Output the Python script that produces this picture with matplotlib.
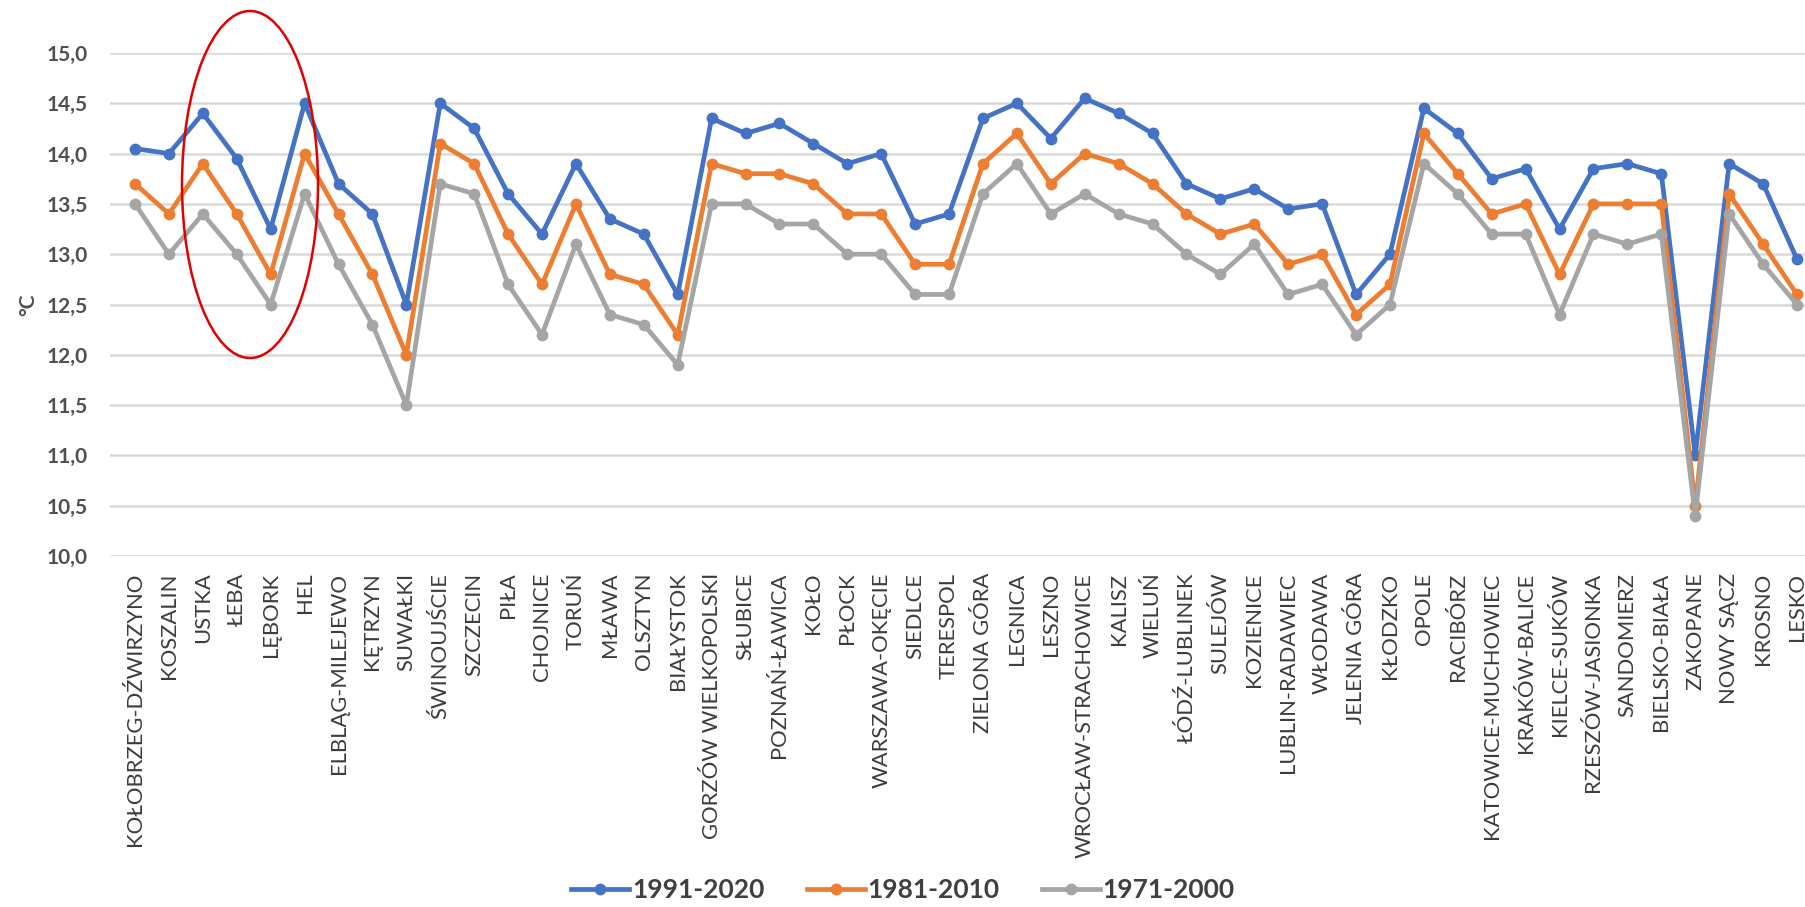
import matplotlib
matplotlib.use("Agg")
import matplotlib.pyplot as plt
from matplotlib.patches import Ellipse

stations = [
    "KOŁOBRZEG-DŹWIRZYNO", "KOSZALIN", "USTKA", "ŁEBA", "LĘBORK", "HEL",
    "ELBLĄG-MILEJEWO", "KĘTRZYN", "SUWAŁKI", "ŚWINOUJŚCIE", "SZCZECIN", "PIŁA",
    "CHOJNICE", "TORUŃ", "MŁAWA", "OLSZTYN", "BIAŁYSTOK", "GORZÓW WIELKOPOLSKI",
    "SŁUBICE", "POZNAŃ-ŁAWICA", "KOŁO", "PŁOCK", "WARSZAWA-OKĘCIE", "SIEDLCE",
    "TERESPOL", "ZIELONA GÓRA", "LEGNICA", "LESZNO", "WROCŁAW-STRACHOWICE",
    "KALISZ", "WIELUŃ", "ŁÓDŹ-LUBLINEK", "SULEJÓW", "KOZIENICE",
    "LUBLIN-RADAWIEC", "WŁODAWA", "JELENIA GÓRA", "KŁODZKO", "OPOLE",
    "RACIBÓRZ", "KATOWICE-MUCHOWIEC", "KRAKÓW-BALICE", "KIELCE-SUKÓW",
    "RZESZÓW-JASIONKA", "SANDOMIERZ", "BIELSKO-BIAŁA", "ZAKOPANE", "NOWY SĄCZ",
    "KROSNO", "LESKO",
]

t_1991_2020 = [
    14.05, 14.0, 14.4, 13.95, 13.25, 14.5, 13.7, 13.4, 12.5, 14.5,
    14.25, 13.6, 13.2, 13.9, 13.35, 13.2, 12.6, 14.35, 14.2, 14.3,
    14.1, 13.9, 14.0, 13.3, 13.4, 14.35, 14.5, 14.15, 14.55, 14.4,
    14.2, 13.7, 13.55, 13.65, 13.45, 13.5, 12.6, 13.0, 14.45, 14.2,
    13.75, 13.85, 13.25, 13.85, 13.9, 13.8, 11.0, 13.9, 13.7, 12.95,
]
t_1981_2010 = [
    13.7, 13.4, 13.9, 13.4, 12.8, 14.0, 13.4, 12.8, 12.0, 14.1,
    13.9, 13.2, 12.7, 13.5, 12.8, 12.7, 12.2, 13.9, 13.8, 13.8,
    13.7, 13.4, 13.4, 12.9, 12.9, 13.9, 14.2, 13.7, 14.0, 13.9,
    13.7, 13.4, 13.2, 13.3, 12.9, 13.0, 12.4, 12.7, 14.2, 13.8,
    13.4, 13.5, 12.8, 13.5, 13.5, 13.5, 10.5, 13.6, 13.1, 12.6,
]
t_1971_2000 = [
    13.5, 13.0, 13.4, 13.0, 12.5, 13.6, 12.9, 12.3, 11.5, 13.7,
    13.6, 12.7, 12.2, 13.1, 12.4, 12.3, 11.9, 13.5, 13.5, 13.3,
    13.3, 13.0, 13.0, 12.6, 12.6, 13.6, 13.9, 13.4, 13.6, 13.4,
    13.3, 13.0, 12.8, 13.1, 12.6, 12.7, 12.2, 12.5, 13.9, 13.6,
    13.2, 13.2, 12.4, 13.2, 13.1, 13.2, 10.4, 13.4, 12.9, 12.5,
]
series_labels = ["1991-2020", "1981-2010", "1971-2000"]
y_ticks = [10.0, 10.5, 11.0, 11.5, 12.0, 12.5, 13.0, 13.5, 14.0, 14.5, 15.0]

colors = ["#4472C4", "#ED7D31", "#A5A5A5"]
base_font = ["Lato", "DejaVu Sans"]
plt.rcParams["font.family"] = base_font

W, H = 1806, 907
fig = plt.figure(figsize=(W / 100, H / 100), dpi=100)
fig.patch.set_facecolor("white")

# plot area in pixel terms
left_px, right_px, top_px, bottom_px = 110, 1806, 53, 556
ax = fig.add_axes([left_px / W, (H - bottom_px) / H,
                   (right_px - left_px) / W, (bottom_px - top_px) / H])

x = list(range(len(stations)))
for vals, c, lab in zip([t_1991_2020, t_1981_2010, t_1971_2000], colors, series_labels):
    ax.plot(x, vals, color=c, lw=3.4, marker="o", markersize=8.5,
            markeredgewidth=0, label=lab, solid_joinstyle="round")

step = (1797 - 135) / 49
ax.set_xlim(-(135 - left_px) / step, 49 + (right_px - 1797) / step)
ax.set_ylim(10, 15)
ax.set_yticks(y_ticks)
ax.set_yticklabels([f"{v:.1f}".replace(".", ",") for v in y_ticks],
                   fontsize=15, fontweight="bold", color="#505050")
ax.set_xticks(x)
ax.set_xticklabels(stations, rotation=90, ha="center", va="top",
                   fontsize=15.8, color="#3C3C3C")
ax.tick_params(axis="both", length=0)
ax.tick_params(axis="y", pad=16)
ax.tick_params(axis="x", pad=12)

ax.grid(axis="y", color="#D9D9D9", lw=1.8)
ax.set_axisbelow(True)
for sp in ax.spines.values():
    sp.set_visible(False)

ax.set_ylabel("°C", fontsize=15, fontweight="bold", color="#505050")
ax.yaxis.set_label_coords(-(left_px - 38) / (right_px - left_px), 0.5)

leg = fig.legend(loc="center", bbox_to_anchor=(0.5, 1 - 890 / H), ncol=3,
                 frameon=False, handlelength=2.2, handletextpad=0.1,
                 columnspacing=1.6,
                 prop={"family": base_font, "size": 19, "weight": "bold"})
for t in leg.get_texts():
    t.set_color("#404040")

# highlight ring around the Łeba / Lębork part of the coast
ring = Ellipse((250 / W, 1 - 184.5 / H), 136 / W, 347 / H,
               transform=fig.transFigure, fill=False, ec="#E00000", lw=1.8,
               zorder=10)
fig.add_artist(ring)

fig.savefig("out.png", dpi=100, facecolor="white")
